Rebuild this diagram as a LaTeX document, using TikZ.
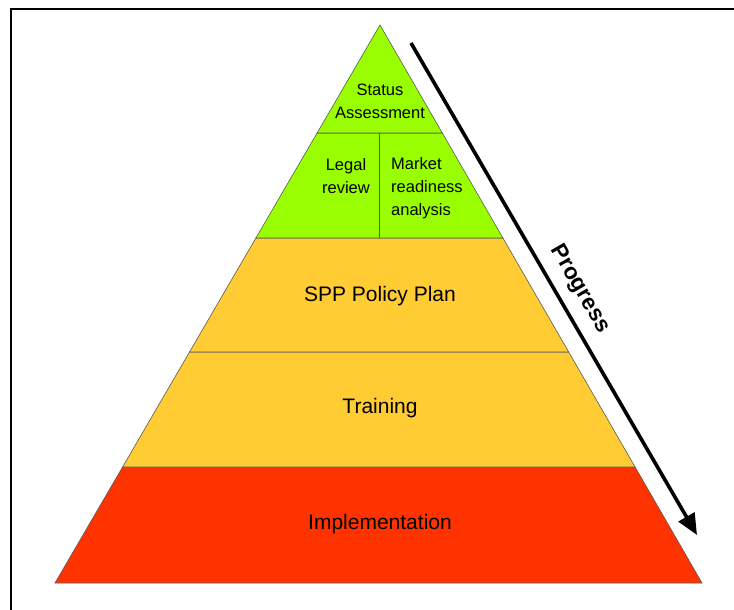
\documentclass[tikz,border=0pt]{standalone}
\usepackage{fontspec}
\setmainfont{Liberation Sans}
\usetikzlibrary{positioning,arrows.meta}

\definecolor{pyrgreen}{HTML}{99FF00}
\definecolor{pyryellow}{HTML}{FFCC33}
\definecolor{pyrred}{HTML}{FF3300}

\begin{document}
\begin{tikzpicture}[x=1pt,y=-1pt,
    layer/.style={draw=gray!70!black, line width=0.6pt},
    biglabel/.style={font=\fontsize{21}{25}\selectfont},
    smalllabel/.style={font=\fontsize{16.5}{23}\selectfont, inner sep=0pt}]
    \useasboundingbox (0,0) rectangle (734,610);

    % frame
    \draw[line width=2.6pt] (11,612) -- (11,9) -- (736,9);

    % pyramid layers
    \fill[pyrred, layer] (122.6,467) -- (635.1,467) -- (702,583) -- (55,583) -- cycle;
    \fill[pyryellow, layer] (189.5,352) -- (568.7,352) -- (635.1,467) -- (122.6,467) -- cycle;
    \fill[pyryellow, layer] (255.9,238) -- (502.9,238) -- (568.7,352) -- (189.5,352) -- cycle;
    \fill[pyrgreen, layer] (317.1,133) -- (442.3,133) -- (502.9,238) -- (255.9,238) -- cycle;
    \fill[pyrgreen, layer] (380,25) -- (442.3,133) -- (317.1,133) -- cycle;
    \draw[layer] (379,133) -- (379,238);

    % labels
    \node[smalllabel, align=center] (status) at (380,101) {Status\\Assessment};
    \node[smalllabel, align=center] (legal) at (346,176) {Legal\\review};
    \node[smalllabel, align=left, anchor=west] (market) at (391,188) {Market\\readiness\\analysis};
    \node[biglabel] (policy) at (380,296) {SPP Policy Plan};
    \node[biglabel] (training) at (380,408) {Training};
    \node[biglabel] (impl) at (380,524) {Implementation};

    % progress arrow
    \coordinate (pstart) at (411,43);
    \coordinate (pend) at (697,535);
    \draw[line width=3.6pt, -{Triangle[length=21pt,width=18pt]}] (pstart) -- (pend);
    \node[rotate=-60, font=\bfseries\fontsize{22.5}{26}\selectfont] (progress) at (580,289) {Progress};
\end{tikzpicture}
\end{document}
